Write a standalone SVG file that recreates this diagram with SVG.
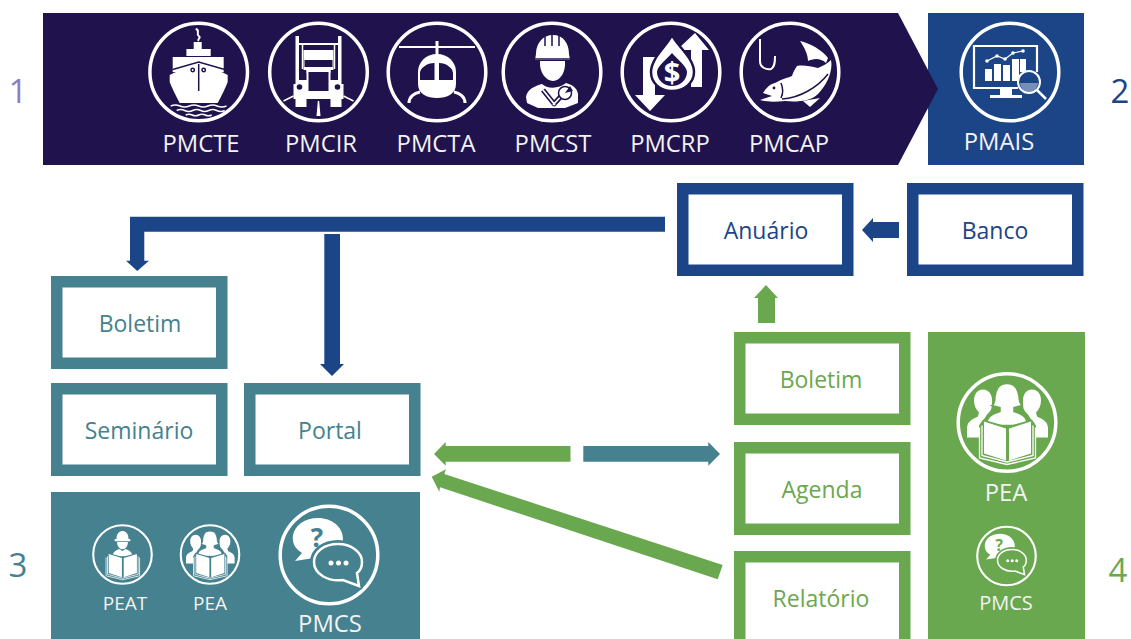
<svg xmlns="http://www.w3.org/2000/svg" width="1131" height="639" viewBox="0 0 1131 639">
<style>
text{font-family:"Open Sans","Noto Sans","Liberation Sans",sans-serif;text-anchor:middle}
.w{fill:#fff}
.lab{font-size:23.8px;fill:#f3f3f3}
.sm{font-size:19px;fill:#f3f3f3}
.sm2{font-size:20px;fill:#f3f3f3}
.num{font-size:33px}
.box{fill:#fff;stroke-width:11.500}
.bt{font-size:23px}
.blue{stroke:#1c4587}.teal{stroke:#45818e}.green{stroke:#6aa84f}
.tb{fill:#1c4587}.tt{fill:#45818e}.tg{fill:#6aa84f}
.ring{fill:none;stroke:#fff;stroke-width:3.500}
.d{fill:none;stroke:currentColor;stroke-width:1.500}
.s{fill:none;stroke:#fff;stroke-width:1.500}
.k{fill:currentColor}
</style>
<defs>
<symbol id="ship" overflow="visible" viewBox="-50 -50 100 100" width="100" height="100">
<circle class="ring" r="48.800"/>
<path fill="none" stroke="#fff" stroke-width="2" d="M-3,-43C2,-42 -3,-38 0,-36S-2,-33 0,-31"/>
<path class="w" d="M-5,-30H3V-23H-5ZM-12.300,-23H12V-16H-12.300ZM-26,-15H25V0H-26Z"/>
<path class="d" d="M-26,-2.500L0,-10L26,-2.500" stroke-width="2"/>
<path class="w" d="M-29,3L-24,0.500L0,-8L24,0.500L29,3V10Q26,18 19,31H-19Q-26,18 -29,10Z"/>
<path class="d" d="M0,-8V19"/><circle class="d" cx="-6" cy="-2" r="1.700"/><circle class="d" cx="5" cy="-2" r="1.700"/>
<path class="s" d="M-28,34q4.700,-2 9.300,0t9.300,0t9.300,0t9.300,0t9.300,0t9.300,0M-22,38.500q4,-2 8,0t8,0t8,0t8,0t8,0t8,0M-13,43q3.300,-1.600 6.500,0t6.500,0t6.500,0t6.500,0"/>
</symbol>
<symbol id="truck" overflow="visible" viewBox="-50 -50 100 100" width="100" height="100">
<circle class="ring" r="48.800"/>
<path class="w" d="M-23,-36h3.500V13H-23ZM19.500,-36H23V13H19.500Z"/>
<path class="w" d="M-20,-29H20V-27H-20Z"/>
<path class="s" d="M-16,-27V-3M16,-27V-3"/>
<path class="w" d="M-15,-22H15V-2H12V1H-12V-2H-15Z"/>
<rect class="k" x="-14" y="-12" width="28" height="7"/>
<path class="w" d="M-20,8H-12V-2H12V8H20V12H25V27H23V35H12V27H-12V35H-23V27H-25V12H-20Z"/>
<rect class="k" x="-10" y="0" width="20" height="19"/>
<circle class="k" cx="-19" cy="15" r="2.800"/><circle class="k" cx="19" cy="15" r="2.800"/>
<path class="s" d="M-25,24L-35,29M25,24L35,29"/>
<path class="w" d="M-.700,29h1.400L2,44H-2Z"/>
</symbol>
<symbol id="heli" overflow="visible" viewBox="-50 -50 100 100" width="100" height="100">
<circle class="ring" r="48.800"/>
<path fill="none" stroke="#fff" stroke-width="1.800" d="M-38,-25H38"/>
<path class="w" d="M-1.500,-31h3V-16h-3Z"/>
<path class="w" d="M0,-18C11,-18 19,-10 19,0V12C19,22 10,26 0,26C-10,26 -19,22 -19,12V0C-19,-10 -11,-18 0,-18Z"/>
<path class="k" d="M-2.500,-9V8H-17V1C-17,-4 -10,-9 -2.500,-9ZM2,-9C9,-9 16,-4 16,1V8H2Z"/>
<path fill="none" stroke="#fff" stroke-width="3" d="M-17,20C-23,21 -28,25 -28,31M17,20C23,21 28,25 28,31"/>
</symbol>
<symbol id="worker" overflow="visible" viewBox="-50 -50 100 100" width="100" height="100">
<circle class="ring" r="48.800"/>
<path class="w" d="M-16,-18C-16,-29 -9,-37 1,-37S17,-29 17,-18L18,-12H-17Z"/>
<path class="d" stroke-width="1.600" d="M-7,-35V-26M0,-37V-26M7,-36V-26M-17,-13H18"/>
<path class="w" d="M-12,-11H13C14,0 8,9 1,9S-13,0 -12,-11Z"/>
<path class="w" d="M-10,12C-5,17 7,17 14,11C22,13 27,18 26,25L26,31L13,36H-14L-25,31L-26,25C-25,17 -17,14 -10,12Z"/>
<path fill="none" stroke="currentColor" stroke-width="5" d="M-9,18L3,33M13,20L1,33"/>
<path fill="none" stroke="#fff" stroke-width="1.800" d="M-9,18L3,33M13,20L1,33"/>
<circle cx="13" cy="21" r="6.500" fill="#fff" stroke="currentColor" stroke-width="1.500"/>
<path class="k" d="M13,21L18,14L21,19Z"/>
</symbol>
<symbol id="money" overflow="visible" viewBox="-50 -50 100 100" width="100" height="100">
<circle class="ring" r="48.800"/>
<path class="w" d="M9,-25L24,-39L38,-22H31V15H20V-22H13Z"/>
<path class="w" d="M-28,-15H-16V23H-6L-21,39L-36,23H-28Z"/>
<path class="w" stroke="currentColor" stroke-width="2.500" d="M1,-37C6,-26 23,-14 23,0C23,11 13,19 1,19S-20,11 -20,0C-20,-14 -4,-26 1,-37Z"/>
<path class="k" d="M1,-19C5,-14 16,-6 16,0C16,8 9,14 1,14S-14,8 -14,0C-14,-6 -3,-14 1,-19Z"/>
<text x="1" y="11" font-size="29" font-weight="700" fill="#fff">$</text>
</symbol>
<symbol id="fish" overflow="visible" viewBox="-50 -50 100 100" width="100" height="100">
<circle class="ring" r="48.800"/>
<path fill="none" stroke="#fff" stroke-width="2" d="M-30,-33V-11C-30,-4 -23,-2 -19,-3C-15,-5 -15,-11 -15,-16"/>
<path class="w" d="M10,-31C20,-29 32,-22 38,-14L36,-9C30,-15 22,-13 18,-11C18,-18 14,-25 10,-31Z"/>
<path class="w" d="M41,-12C43,-2 38,12 28,22C20,30 5,30 -5,29C-15,30 -24,30 -30,28L-18,24L-27,21C-24,16 -20,12 -15,11C-8,7 -3,6 2,4C3,0 5,-3 7,-6C13,-7 20,-6 28,-4C33,-6 38,-9 41,-12Z"/>
<path class="k" d="M-6,27C10,27 30,15 38,0C30,10 15,19 -6,24Z" opacity=".0"/>
<path class="d" d="M-8,27C10,26 28,15 38,2"/>
<path class="d" d="M-9,11C-7,16 -7,22 -9,26"/>
<path class="w" d="M13,29L30,26L20,35Z"/>
<circle class="k" cx="-16" cy="16" r="1.400"/>
</symbol>
<symbol id="monitor" overflow="visible" viewBox="-50 -50 100 100" width="100" height="100">
<circle class="ring" r="48.800"/>
<path fill="none" stroke="#fff" stroke-width="2.200" d="M8,16H-36V-26H27V0"/>
<path class="w" d="M-10,17H2V23H12V26H-20V23H-10Z"/>
<path class="w" d="M-25,-3h7V9h-7ZM-16,-8h7V9h-7ZM-7,-7h7V9h-7ZM2,-13h7V9h-7ZM10,-13h6V0h-6Z"/>
<path fill="none" stroke="#fff" stroke-width="1.200" d="M-23,-11L-13,-16L-5,-13L3,-19L13,-21"/>
<circle cx="-23" cy="-11" r="1.800" class="w"/><circle cx="-13" cy="-16" r="1.800" class="w"/><circle cx="-5" cy="-13" r="1.800" class="w"/><circle cx="3" cy="-19" r="1.800" class="w"/><circle cx="13" cy="-21" r="1.800" class="w"/>
<circle cx="19" cy="10" r="11" fill="currentColor" stroke="#fff" stroke-width="2"/>
<path class="w" d="M10,11A9,9 0 0 0 28,11Z" opacity=".4"/>
<path fill="none" stroke="#fff" stroke-width="2.500" d="M27,18L36,27"/>
</symbol>
<symbol id="chat" overflow="visible" viewBox="-50 -50 100 100" width="100" height="100">
<circle class="ring" r="48.800"/>
<path class="w" d="M-11,-37C3,-37 14,-28 14,-16C14,-4 0,5 -15,3L-34,6L-27,-2C-35,-7 -37,-13 -36,-20C-34,-30 -24,-37 -11,-37Z"/>
<path fill="currentColor" stroke="currentColor" stroke-width="8" stroke-linejoin="round" d="M9,-11C22,-11 33,-3 33,7C33,12 31,16 28,18L30,31L14,25C-1,27 -15,19 -15,7C-15,-3 -5,-11 9,-11Z"/>
<path fill="currentColor" stroke="#fff" stroke-width="2.500" d="M9,-11C22,-11 33,-3 33,7C33,12 31,16 28,18L30,31L14,25C-1,27 -15,19 -15,7C-15,-3 -5,-11 9,-11Z"/>
<text x="-12" y="-8" font-size="26" font-weight="700" fill="currentColor">?</text>
<circle cx="2" cy="8" r="2.500" class="w"/><circle cx="9.500" cy="8" r="2.500" class="w"/><circle cx="17" cy="8" r="2.500" class="w"/>
</symbol>
<g id="book">
<path class="k" d="M-28,3L-24,-3L0,4L25,-3L29,3V37L0,44L-28,37Z"/>
<path class="w" d="M-23,-1L-1,6V38L-23,31ZM2,6L24,-1V31L2,38Z"/>
<path fill="none" stroke="#fff" stroke-width="1.300" d="M-25,3V33L0,39.500L26,33V3M-27.500,5V35.500L0,42L28.500,35.500V5"/>
</g>
<symbol id="pea" overflow="visible" viewBox="-50 -50 100 100" width="100" height="100">
<circle class="ring" r="48.800"/>
<path class="w" id="pl" d="M-24,-33c-6,0 -9,5 -9,11c0,5 2,9 5,12l-1,4C-36,-3 -40,0 -40,6V15H-27V3L-20,-8L-18,-10c3,-3 3,-7 3,-12c0,-6 -3,-11 -9,-11Z"/>
<path class="w" d="M25,-33c6,0 9,5 9,11c0,5 -2,9 -5,12l1,4C37,-3 41,0 41,6V15H28V3L21,-8L19,-10c-3,-3 -3,-7 -3,-12c0,-6 3,-11 9,-11Z"/>
<path class="w" stroke="currentColor" stroke-width="1.500" d="M0,-39C9,-39 11,-32 12,-26C12,-21 14,-18 15,-17L7,-15V-11C13,-9 19,-7 20,-1L23,3H-23L-20,-1C-19,-7 -13,-9 -7,-11V-15L-15,-17C-13,-18 -12,-21 -12,-26C-11,-32 -9,-39 0,-39Z"/>
<use href="#book"/>
</symbol>
<symbol id="peat" overflow="visible" viewBox="-50 -50 100 100" width="100" height="100">
<circle class="ring" r="48.800"/>
<path class="w" d="M-10,-26C-10,-35 -5,-39 0,-39S10,-35 10,-26H13V-22H-13V-26Z"/>
<path class="w" d="M-9,-21H9C9,-14 5,-9 0,-9S-9,-14 -9,-21Z"/>
<path class="w" d="M-5,-9L0,-6L5,-9C11,-7 16,-4 17,3H-17C-16,-4 -11,-7 -5,-9Z"/>
<use href="#book"/>
</symbol>
</defs>

<g id="connectors">
<path fill="#1c4587" d="M665,216.700V231.700H144.300V260.700H149L137.300,271L126,260.700H130V216.700Z"/>
<path fill="#1c4587" d="M324.300,234H340V364H344L332,376L320,364H324.300Z"/>
<path fill="#1c4587" d="M899,222V238H873V242L862,230L873,218V222Z"/>
<path fill="#6aa84f" d="M758,323V298H754L766,285L778,298H775V323Z"/>
<path fill="#6aa84f" d="M570.500,446V461.700H445.700V465.700L434,454L445.700,442V446Z"/>
<path fill="#45818e" d="M583.300,446V461.700H708.300V465.700L720,454L708.300,442V446Z"/>
<path fill="#6aa84f" d="M722.700,565L717.700,579.300L440,487.300L439.300,491.700L431.700,476.700L446,469.300L444.300,474Z"/>
</g>

<g id="pmais">
<rect fill="#1c4587" x="928" y="13" width="156" height="152"/>
</g>
<g id="banner">
<path fill="#20124d" d="M43,13H898L938,89L898,165H43Z"/>
</g>
<g id="pmais-content">
<use href="#monitor" x="960" y="22" color="#1c4587"/>
<text class="lab" x="999" y="150">PMAIS</text>
</g>
<g id="pmcte"><use href="#ship" x="148.700" y="22" color="#20124d"/><text class="lab" x="201" y="152">PMCTE</text></g>
<g id="pmcir"><use href="#truck" x="268.500" y="22" color="#20124d"/><text class="lab" x="321" y="152">PMCIR</text></g>
<g id="pmcta"><use href="#heli" x="387" y="22" color="#20124d"/><text class="lab" x="436" y="152">PMCTA</text></g>
<g id="pmcst"><use href="#worker" x="502" y="22" color="#20124d"/><text class="lab" x="553" y="152">PMCST</text></g>
<g id="pmcrp"><use href="#money" x="621" y="22" color="#20124d"/><text class="lab" x="670" y="152">PMCRP</text></g>
<g id="pmcap"><use href="#fish" x="740" y="22" color="#20124d"/><text class="lab" x="789" y="152">PMCAP</text></g>

<g id="n1"><text class="num" x="18" y="103" fill="#8e7cc3">1</text></g>
<g id="n2"><text class="num" x="1120" y="103" fill="#1c4587">2</text></g>
<g id="n3"><text class="num" x="18" y="577" fill="#45818e">3</text></g>
<g id="n4"><text class="num" x="1118" y="582" fill="#6aa84f">4</text></g>

<g id="anuario"><rect class="box blue" x="682.750" y="188.750" width="165" height="81.500"/><text class="bt tb" x="766" y="239">Anuário</text></g>
<g id="banco"><rect class="box blue" x="912.750" y="188.750" width="165" height="81.500"/><text class="bt tb" x="995" y="239">Banco</text></g>
<g id="boletim-teal"><rect class="box teal" x="56.750" y="281.750" width="165" height="81.500"/><text class="bt tt" x="140" y="332">Boletim</text></g>
<g id="seminario"><rect class="box teal" x="56.750" y="388.750" width="165" height="81.500"/><text class="bt tt" x="139" y="439">Seminário</text></g>
<g id="portal"><rect class="box teal" x="249.750" y="388.750" width="165" height="81.500"/><text class="bt tt" x="330" y="439">Portal</text></g>
<g id="boletim-green"><rect class="box green" x="739.750" y="337.750" width="165" height="81.500"/><text class="bt tg" x="821" y="388">Boletim</text></g>
<g id="agenda"><rect class="box green" x="739.750" y="447.750" width="165" height="81.500"/><text class="bt tg" x="822" y="498">Agenda</text></g>
<g id="relatorio"><rect class="box green" x="739.750" y="556.750" width="165" height="100"/><text class="bt tg" x="821" y="607">Relatório</text></g>

<g id="panel3">
<rect fill="#45818e" x="51" y="492" width="369" height="147"/>
<use href="#peat" transform="translate(122.500,554.500) scale(.6) translate(-50,-50)" color="#45818e"/>
<use href="#pea" transform="translate(210,554.500) scale(.6) translate(-50,-50)" color="#45818e"/>
<use href="#chat" x="279" y="505" color="#45818e"/>
<text class="sm" x="125" y="610">PEAT</text>
<text class="sm" x="210" y="610">PEA</text>
<text class="lab" x="330" y="632">PMCS</text>
</g>
<g id="panel4">
<rect fill="#6aa84f" x="928" y="332" width="157" height="307"/>
<use href="#pea" x="957" y="372.500" color="#6aa84f"/>
<use href="#chat" transform="translate(1006.500,556) scale(.6) translate(-50,-50)" color="#6aa84f"/>
<text class="lab" x="1006" y="501">PEA</text>
<text class="sm2" x="1006" y="610">PMCS</text>
</g>
</svg>
